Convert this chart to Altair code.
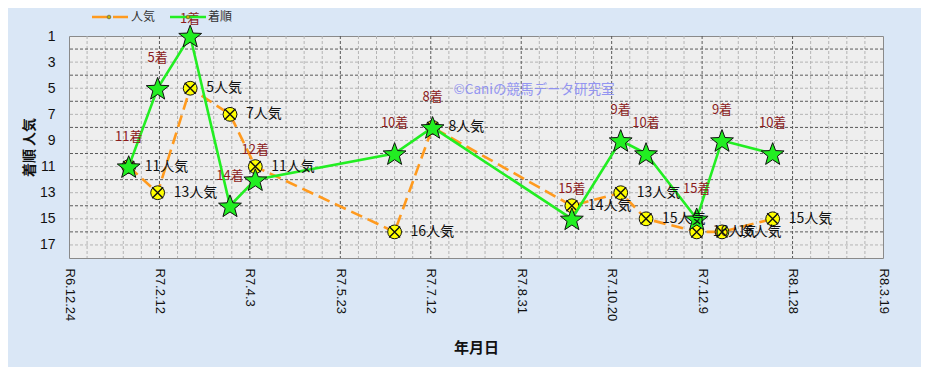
import json
import math
import altair as alt
import pandas as pd

# ---------------- data ----------------
race_dates = ["2025-01-26", "2025-02-11", "2025-03-01", "2025-03-23", "2025-04-06",
              "2025-06-22", "2025-07-13", "2025-09-28", "2025-10-25", "2025-11-08",
              "2025-12-06", "2025-12-20", "2026-01-17"]
finish = [11, 5, 1, 14, 12, 10, 8, 15, 9, 10, 15, 9, 10]
popularity = [11, 13, 5, 7, 11, 16, 8, 14, 13, 15, 16, 16, 15]

tick_dates = ["2024-12-24", "2025-02-12", "2025-04-03", "2025-05-23", "2025-07-12",
              "2025-08-31", "2025-10-20", "2025-12-09", "2026-01-28", "2026-03-19"]
tick_labels = ["R6.12.24", "R7.2.12", "R7.4.3", "R7.5.23", "R7.7.12",
               "R7.8.31", "R7.10.20", "R7.12.9", "R8.1.28", "R8.3.19"]
y_ticks = [1, 3, 5, 7, 9, 11, 13, 15, 17]

series_names = ["人気", "着順"]
finish_suffix = "着"
pop_suffix = "人気"
x_title = "年月日"
y_title = "着順  人気"
watermark = "©Caniの競馬データ研究室"

ORANGE = "#ff9a1e"
GREEN = "#22ee22"
JP = "Noto Sans CJK JP"

# star symbol path (unit coordinates)
_sp = []
for k in range(10):
    r = 1.0 if k % 2 == 0 else 0.42
    a = math.radians(-90 + 36 * k)
    _sp.append(f"{r * math.cos(a):.3f},{r * math.sin(a) + 0.095:.3f}")
STAR = "M" + "L".join(_sp) + "Z"
XMARK = "M-1,-1L1,1M-1,1L1,-1"

# ---------------- tables ----------------
pts = pd.DataFrame({
    "date": race_dates,
    "finish": finish,
    "pop": popularity,
    "finish_label": [f"{v}{finish_suffix}" for v in finish],
    "pop_label": [f"{v}{pop_suffix}" for v in popularity],
})

all_ten = pd.date_range(tick_dates[0], tick_dates[-1], freq="10D").strftime("%Y-%m-%d").tolist()
x_major = pd.DataFrame({"date": tick_dates[1:-1]})
x_minor = pd.DataFrame({"date": [d for d in all_ten if d not in tick_dates]})
y_major = pd.DataFrame({"v": list(range(2, 18, 2))})
y_minor = pd.DataFrame({"v": list(range(3, 18, 2))})
one = pd.DataFrame({"k": [0]})


def dt(s):
    t = pd.Timestamp(s)
    return alt.DateTime(year=t.year, month=t.month, date=t.day, utc=True)


t0 = pd.Timestamp(tick_dates[0], tz="UTC").value // 10**6
label_expr = f"{json.dumps(tick_labels)}[round((datum.value - {t0}) / 4320000000)]"

x_scale = alt.Scale(type="utc", domain=[dt(tick_dates[0]), dt(tick_dates[-1])], nice=False)
y_scale = alt.Scale(domain=[1, 18], reverse=True, nice=False, zero=False)

x_axis = alt.Axis(values=[dt(d) for d in tick_dates], labelExpr=label_expr, labelAngle=90,
                  labelFont="Liberation Sans", labelFontSize=13, labelColor="#111",
                  labelPadding=10, ticks=False, tickSize=0, domain=False, grid=False,
                  title=x_title, titleFont=JP, titleFontSize=15,
                  titleFontWeight="bold", titleColor="#111", titlePadding=20,
                  labelOverlap=False)
y_axis = alt.Axis(values=y_ticks, labelFont="Liberation Sans", labelFontSize=14,
                  labelColor="#111", labelPadding=14, ticks=False, tickSize=0,
                  domain=False, grid=False, title=y_title, titleFont=JP,
                  titleFontSize=14, titleFontWeight="bold", titleColor="#111",
                  titlePadding=3)

X = alt.X("date:T", scale=x_scale, axis=x_axis)
Ypop = alt.Y("pop:Q", scale=y_scale, axis=y_axis)
Yfin = alt.Y("finish:Q", scale=y_scale, axis=y_axis)

grid_xmin = alt.Chart(x_minor).mark_rule(color="#b4b4b4", strokeWidth=1, strokeDash=[3, 2]).encode(x=X)
grid_xmaj = alt.Chart(x_major).mark_rule(color="#5a5a5a", strokeWidth=1, strokeDash=[3, 2]).encode(x=X)
grid_ymin = alt.Chart(y_minor).mark_rule(color="#b4b4b4", strokeWidth=1, strokeDash=[3, 2]).encode(
    y=alt.Y("v:Q", scale=y_scale, axis=y_axis))
grid_ymaj = alt.Chart(y_major).mark_rule(color="#5a5a5a", strokeWidth=1, strokeDash=[3, 2]).encode(
    y=alt.Y("v:Q", scale=y_scale, axis=y_axis))

pop_line = alt.Chart(pts).mark_line(strokeWidth=2.6, color=ORANGE, strokeDash=[12, 6]).encode(x=X, y=Ypop)
fin_line = alt.Chart(pts).mark_line(strokeWidth=2.6, color=GREEN).encode(x=X, y=Yfin)

circles = alt.Chart(pts).mark_point(shape="circle", filled=True, fill="#ffff00", stroke="#111",
                                    strokeWidth=1, size=190, opacity=1).encode(x=X, y=Ypop)
crosses = alt.Chart(pts).mark_point(shape=XMARK, filled=False, stroke="#111",
                                    strokeWidth=1.4, size=121, opacity=1).encode(x=X, y=Ypop)
stars = alt.Chart(pts).mark_point(shape=STAR, filled=True, fill=GREEN, stroke="#111",
                                  strokeWidth=1, size=576, opacity=1).encode(x=X, y=Yfin)
# finish labels sit ~30px (2.3 units) above each star, kept inside the picture at the top
fin_text = alt.Chart(pts).transform_calculate(
    ly="max(datum.finish - 2.3, -0.3)"
).mark_text(color="#8b1c1c", font=JP, fontSize=13).encode(
    x=X, y=alt.Y("ly:Q", scale=y_scale, axis=y_axis), text="finish_label:N")
pop_text = alt.Chart(pts).mark_text(dx=16, align="left", baseline="middle", color="#111",
                                    font=JP, fontSize=14).encode(x=X, y=Ypop, text="pop_label:N")

wm = alt.Chart(pd.DataFrame({"t": [watermark]})).mark_text(
    color="#8a8cf2", font=JP, fontSize=13.5, opacity=0.9).encode(
    x=alt.value(465), y=alt.value(54), text="t:N")

# manual legend
LY = -19
leg_pop_line = alt.Chart(one).mark_rule(color=ORANGE, strokeWidth=2.5, strokeDash=[15, 6]).encode(
    x=alt.value(23), x2=alt.value(59), y=alt.value(LY))
leg_fin_line = alt.Chart(one).mark_rule(color=GREEN, strokeWidth=2.5).encode(
    x=alt.value(101), x2=alt.value(137), y=alt.value(LY))
leg_dots = alt.Chart(pd.DataFrame({"px": [40, 119]})).mark_point(
    shape="circle", filled=True, fill="#c8b400", stroke="#333", strokeWidth=0.5, size=14, opacity=1).encode(
    x=alt.X("px:Q", scale=None), y=alt.value(LY))
leg_text = alt.Chart(pd.DataFrame({"name": series_names, "px": [62, 139]})).mark_text(
    align="left", baseline="middle", font=JP, fontSize=12, color="#333").encode(
    x=alt.X("px:Q", scale=None), y=alt.value(LY), text="name:N")

chart = alt.layer(
    grid_xmin, grid_ymin, grid_xmaj, grid_ymaj, pop_line, circles, crosses, fin_line, stars,
    fin_text, pop_text, wm, leg_pop_line, leg_fin_line, leg_dots, leg_text
).properties(
    width=814, height=222,
    autosize=alt.AutoSizeParams(type="none"),
    padding={"left": 61, "top": 28, "right": 38, "bottom": 109},
    background="#dae7f6",
).configure_view(fill="#eeeeee", stroke="#8a8a8a", strokeWidth=1)

chart.save("out.html", embed_options={"renderer": "svg", "actions": False})
